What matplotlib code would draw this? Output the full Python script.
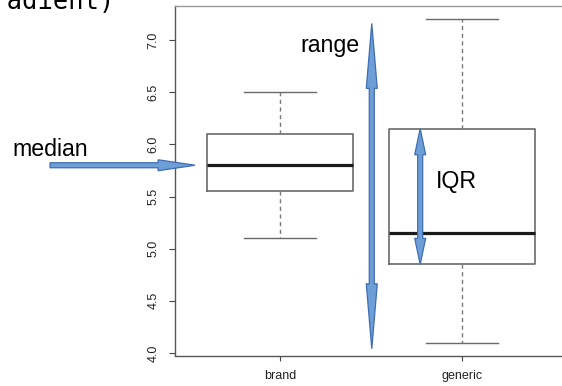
import matplotlib
matplotlib.use("Agg")
import matplotlib.pyplot as plt
import numpy as np
from matplotlib.patches import Polygon

# box statistics
groups = ["brand", "generic"]
whisker_low = [5.10, 4.10]
quart_1 = [5.55, 4.85]
medians = [5.80, 5.15]
quart_3 = [6.10, 6.15]
whisker_high = [6.50, 7.20]
yticks = [4.0, 4.5, 5.0, 5.5, 6.0, 6.5, 7.0]

plt.rcParams["font.family"] = ["Liberation Sans", "DejaVu Sans"]

W, H = 562, 386
fig = plt.figure(figsize=(W / 100, H / 100), dpi=100)
ax = fig.add_axes([174.5 / W, 30.5 / H, (567.6 - 174.5) / W, 349.2 / H])

stats = []
for i, name in enumerate(groups):
    stats.append(dict(label=name, whislo=whisker_low[i], q1=quart_1[i],
                      med=medians[i], q3=quart_3[i], whishi=whisker_high[i]))

ax.bxp(stats, positions=[1, 2], widths=0.8, capwidths=0.4, showfliers=False,
       boxprops=dict(color="#6a6a6a", lw=1.2),
       medianprops=dict(color="#1a1a1a", lw=2.3),
       whiskerprops=dict(color="#7a7a7a", lw=1.0, linestyle=(0, (3, 2.5))),
       capprops=dict(color="#6a6a6a", lw=1.0))

ax.set_xlim(0.42, 2.58)
ax.set_ylim(3.976, 7.324)
ax.set_yticks(yticks)
ax.set_yticklabels([f"{v:.1f}" for v in yticks])
ax.tick_params(axis="x", length=3.6, pad=7, labelsize=9, colors="#444",
               labelcolor="#222")
ax.tick_params(axis="y", length=4.3, pad=6.5, labelsize=9, colors="#444",
               labelcolor="#222", labelrotation=90)
for lab in ax.get_yticklabels():
    lab.set_va("center")
for sp in ax.spines.values():
    sp.set_color("#555")
    sp.set_linewidth(1.0)
ax.spines["top"].set_color("#999")


def block_arrow(p0, p1, head0, head1, head_w=11, shaft_w=5):
    """arrow polygon drawn in pixels between two data points"""
    a = ax.transData.transform(p0)
    b = ax.transData.transform(p1)
    d = (b - a) / np.linalg.norm(b - a)
    n = np.array([-d[1], d[0]])
    s, h = shaft_w / 2, head_w / 2
    pts = []
    if head0:
        pts += [a, a + d * head0 + n * h, a + d * head0 + n * s]
    else:
        pts += [a + n * s]
    pts += [b - d * head1 + n * s, b - d * head1 + n * h, b,
            b - d * head1 - n * h, b - d * head1 - n * s]
    if head0:
        pts += [a + d * head0 - n * s, a + d * head0 - n * h]
    else:
        pts += [a - n * s]
    pts = ax.transData.inverted().transform(np.array(pts))
    ax.add_patch(Polygon(pts, closed=True, fc="#6d9ed6", ec="#3f6db3",
                         lw=0.9, clip_on=False, zorder=5))


# median arrow, range arrow, IQR arrow
block_arrow((-0.264, medians[0]), (0.533, medians[0]), 0, 37)
block_arrow((1.504, 4.04), (1.504, 7.16), 65, 65)
block_arrow((1.77, quart_1[1]), (1.77, quart_3[1]), 26, 26)


def label(x, y, s, **kw):
    fig.text(x / W, 1 - y / H, s, va="baseline", ha="left", **kw)


label(12.5, 156.5, "median", fontsize=16.7)
label(300, 52, "range", fontsize=16.7)
label(436, 188, "IQR", fontsize=16.7)
# leftover of a caption above the crop
label(-23, 9, "gradient)", fontsize=18.4, family="DejaVu Sans Mono")

fig.savefig("out.png", dpi=100)
